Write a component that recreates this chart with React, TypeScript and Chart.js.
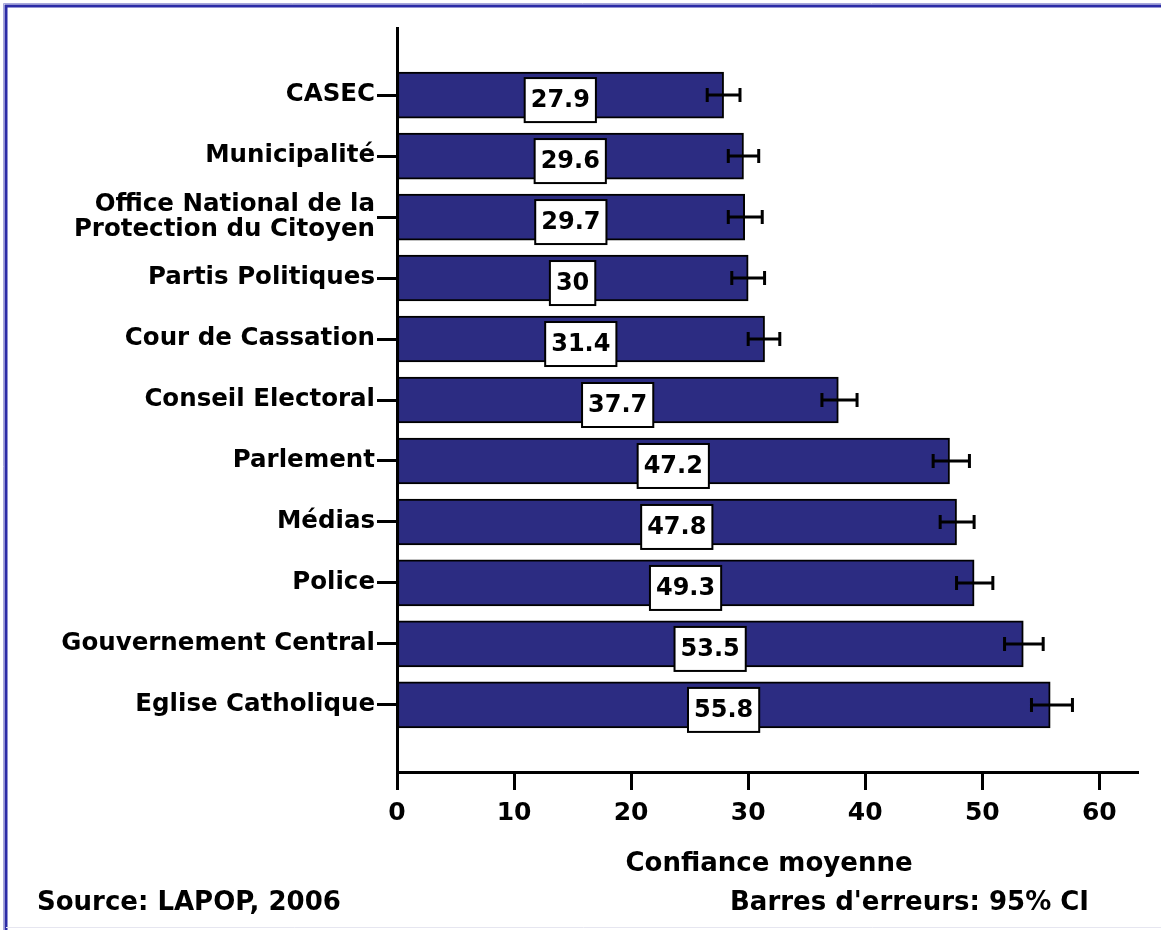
import { useEffect, useRef } from 'react';
import { Chart, registerables } from 'chart.js';

Chart.register(...registerables);

const categories: (string | string[])[] = [
  'CASEC',
  'Municipalité',
  ['Office National de la', 'Protection du Citoyen'],
  'Partis Politiques',
  'Cour de Cassation',
  'Conseil Electoral',
  'Parlement',
  'Médias',
  'Police',
  'Gouvernement Central',
  'Eglise Catholique',
];
const values = [27.9, 29.6, 29.7, 30, 31.4, 37.7, 47.2, 47.8, 49.3, 53.5, 55.8];
const ciLow = [26.5, 28.3, 28.3, 28.6, 30.0, 36.3, 45.8, 46.4, 47.8, 51.9, 54.2];
const ciHigh = [29.3, 30.9, 31.2, 31.4, 32.7, 39.3, 48.9, 49.3, 50.9, 55.2, 57.7];
const xTicks = [0, 10, 20, 30, 40, 50, 60];

const axisTitle = 'Confiance moyenne';
const sourceText = 'Source: LAPOP, 2006';
const ciText = "Barres d'erreurs: 95% CI";

const FONT = '"DejaVu Sans", sans-serif';

const decorPlugin = {
  id: 'decor',
  beforeDraw(chart: any) {
    const { ctx, width, height } = chart;
    ctx.save();
    ctx.fillStyle = '#ffffff';
    ctx.fillRect(0, 0, width, height);
    ctx.restore();
  },
  afterDatasetsDraw(chart: any) {
    const { ctx } = chart;
    const xs = chart.scales.x;
    const meta = chart.getDatasetMeta(0);
    ctx.save();
    // error bars
    ctx.strokeStyle = '#000';
    ctx.lineWidth = 3;
    meta.data.forEach((bar: any, i: number) => {
      const y = bar.y;
      const x1 = xs.getPixelForValue(ciLow[i]);
      const x2 = xs.getPixelForValue(ciHigh[i]);
      ctx.beginPath();
      ctx.moveTo(x1, y);
      ctx.lineTo(x2, y);
      ctx.moveTo(x1, y - 7);
      ctx.lineTo(x1, y + 7);
      ctx.moveTo(x2, y - 7);
      ctx.lineTo(x2, y + 7);
      ctx.stroke();
    });
    // value boxes
    ctx.font = `bold 24px ${FONT}`;
    ctx.textAlign = 'center';
    ctx.textBaseline = 'middle';
    meta.data.forEach((bar: any, i: number) => {
      const txt = String(values[i]);
      const cx = xs.getPixelForValue(values[i] / 2);
      const cy = bar.y + 5;
      const w = ctx.measureText(txt).width + 12;
      const h = 44;
      ctx.fillStyle = '#ffffff';
      ctx.fillRect(cx - w / 2, cy - h / 2, w, h);
      ctx.lineWidth = 2;
      ctx.strokeStyle = '#000';
      ctx.strokeRect(cx - w / 2, cy - h / 2, w, h);
      ctx.fillStyle = '#000';
      ctx.fillText(txt, cx, cy + 1);
    });
    ctx.restore();
  },
  afterDraw(chart: any) {
    const { ctx, width, height } = chart;
    ctx.save();
    ctx.fillStyle = '#000';
    ctx.textBaseline = 'middle';
    ctx.font = `bold 26px ${FONT}`;
    ctx.textAlign = 'center';
    ctx.fillText(axisTitle, 769, 864);
    ctx.textAlign = 'left';
    ctx.fillText(sourceText, 37, 903);
    ctx.textAlign = 'right';
    ctx.fillText(ciText, 1089, 903);
    // frame
    ctx.strokeStyle = '#a8a8dc';
    ctx.lineWidth = 1;
    ctx.beginPath();
    ctx.moveTo(3.5, height);
    ctx.lineTo(3.5, 3.5);
    ctx.lineTo(width, 3.5);
    ctx.stroke();
    ctx.strokeStyle = '#2b2ba6';
    ctx.lineWidth = 3;
    ctx.beginPath();
    ctx.moveTo(6, height);
    ctx.lineTo(6, 6);
    ctx.lineTo(width, 6);
    ctx.stroke();
    ctx.strokeStyle = '#e6e6f0';
    ctx.lineWidth = 1;
    ctx.beginPath();
    ctx.moveTo(6, 927.5);
    ctx.lineTo(width, 927.5);
    ctx.stroke();
    ctx.restore();
  },
};

export default function App() {
  const ref = useRef<HTMLCanvasElement | null>(null);
  useEffect(() => {
    const canvas = ref.current;
    if (!canvas) return;
    const chart = new Chart(canvas, {
      type: 'bar',
      data: {
        datasets: [
          {
            data: values.map((v, i) => ({ x: v, y: i })) as any,
            backgroundColor: '#2c2c82',
            borderColor: '#000',
            borderWidth: 2,
            borderSkipped: false,
            barThickness: 46,
          },
        ],
      },
      options: {
        indexAxis: 'y',
        animation: false,
        responsive: false,
        devicePixelRatio: 1,
        layout: { padding: { top: 28, right: 23, left: 0, bottom: 0 } },
        plugins: { legend: { display: false }, tooltip: { enabled: false } },
        scales: {
          x: {
            type: 'linear',
            min: 0,
            max: 63.3,
            offset: false,
            grid: {
              offset: false,
              drawOnChartArea: false,
              drawTicks: true,
              tickLength: 18,
              tickWidth: 3,
              tickColor: '#000',
            },
            border: { display: true, color: '#000', width: 3 },
            ticks: {
              stepSize: 10,
              includeBounds: false,
              color: '#000',
              padding: 8,
              font: { family: FONT, weight: 'bold', size: 25 },
            },
            afterBuildTicks: (s: any) => {
              s.ticks = xTicks.map((v) => ({ value: v }));
            },
            afterFit: (s: any) => {
              s.height = 158;
            },
          },
          y: {
            type: 'linear',
            reverse: true,
            min: -1.1,
            max: 11.1,
            offset: false,
            grid: {
              offset: false,
              drawOnChartArea: false,
              drawTicks: true,
              tickLength: 20,
              tickWidth: 3,
              tickColor: '#000',
            },
            border: { display: true, color: '#000', width: 3 },
            ticks: {
              color: '#000',
              padding: 2,
              autoSkip: false,
              font: { family: FONT, weight: 'bold', size: 24.5, lineHeight: 1.0 },
              callback: (_v: any, idx: number) => categories[idx],
            },
            afterBuildTicks: (s: any) => {
              s.ticks = categories.map((_, i) => ({ value: i }));
            },
            afterFit: (s: any) => {
              s.width = 397;
            },
          },
        },
      } as any,
      plugins: [decorPlugin],
    });
    return () => chart.destroy();
  }, []);
  return (
    <div style={{ position: 'absolute', left: 0, top: 0, width: 1161, height: 930 }}>
      <canvas ref={ref} width={1161} height={930} style={{ display: 'block' }} />
    </div>
  );
}
